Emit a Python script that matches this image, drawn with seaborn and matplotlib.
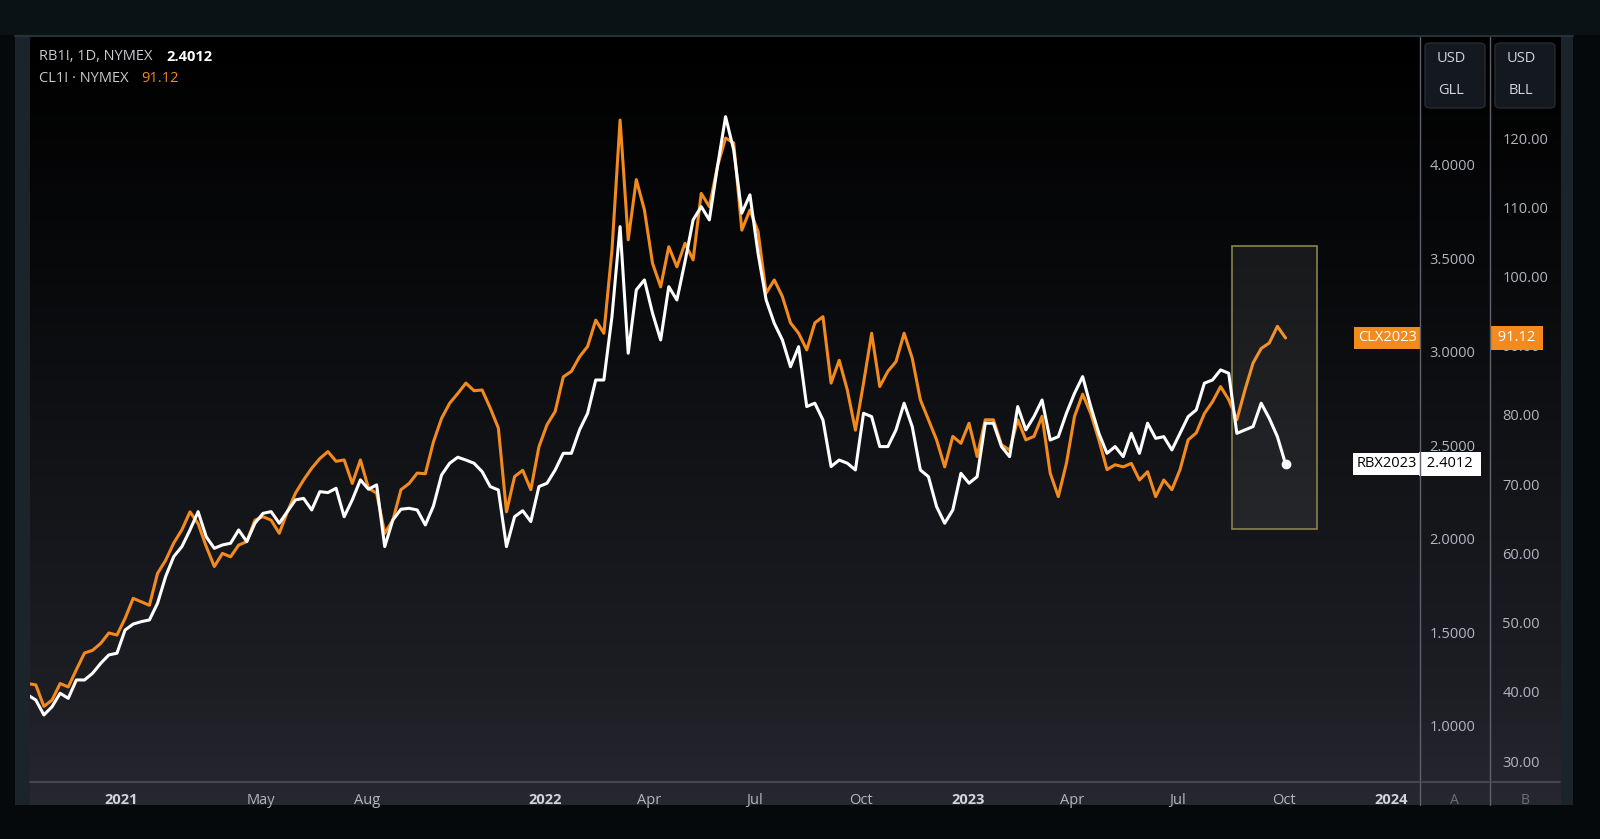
import numpy as np
import pandas as pd
import matplotlib
matplotlib.use("Agg")
import matplotlib.pyplot as plt
import matplotlib.dates as mdates
import matplotlib.transforms as mtransforms
from matplotlib.colors import LinearSegmentedColormap
from matplotlib.patches import Rectangle, FancyBboxPatch
from matplotlib.lines import Line2D
import seaborn as sns

# weekly closes (RB1! gasoline, CL1! crude)
start_date = "2020-10-12"
rb_close = [1.166, 1.139, 1.059, 1.103, 1.175, 1.148, 1.246, 1.246, 1.282, 1.335,
            1.380, 1.389, 1.513, 1.545, 1.558, 1.567, 1.656, 1.799, 1.906, 1.959,
            2.048, 2.146, 2.012, 1.950, 1.968, 1.977, 2.048, 1.986, 2.084, 2.137,
            2.146, 2.084, 2.146, 2.209, 2.217, 2.155, 2.253, 2.248, 2.271, 2.119,
            2.209, 2.316, 2.266, 2.289, 1.959, 2.102, 2.159, 2.164, 2.155, 2.075,
            2.176, 2.342, 2.405, 2.437, 2.422, 2.405, 2.360, 2.280, 2.262, 1.959,
            2.119, 2.151, 2.093, 2.280, 2.298, 2.369, 2.458, 2.458, 2.583, 2.672,
            2.850, 2.850, 3.189, 3.670, 2.993, 3.332, 3.385, 3.207, 3.064, 3.349,
            3.278, 3.483, 3.706, 3.777, 3.706, 3.991, 4.258, 4.080, 3.742, 3.840,
            3.528, 3.278, 3.153, 3.064, 2.921, 3.028, 2.708, 2.726, 2.636, 2.387,
            2.422, 2.405, 2.369, 2.672, 2.654, 2.494, 2.494, 2.583, 2.726, 2.601,
            2.369, 2.333, 2.173, 2.084, 2.155, 2.351, 2.298, 2.333, 2.619, 2.619,
            2.494, 2.440, 2.708, 2.583, 2.654, 2.743, 2.529, 2.547, 2.672, 2.779,
            2.868, 2.708, 2.565, 2.458, 2.494, 2.440, 2.565, 2.458, 2.619, 2.538,
            2.547, 2.476, 2.565, 2.654, 2.690, 2.833, 2.850, 2.904, 2.886, 2.565,
            2.583, 2.601, 2.726, 2.645, 2.547, 2.4012]
cl_close = [41.2, 41.0, 37.9, 38.8, 41.2, 40.7, 43.2, 45.6, 46.0, 47.0,
            48.5, 48.2, 50.6, 53.5, 53.0, 52.5, 57.1, 59.0, 61.5, 63.4,
            66.0, 64.3, 61.0, 58.1, 60.0, 59.5, 61.2, 61.7, 64.8, 65.3,
            64.8, 62.9, 66.0, 68.7, 70.6, 72.3, 73.7, 74.7, 73.3, 73.5,
            70.1, 73.5, 69.4, 68.7, 62.9, 64.8, 69.2, 70.1, 71.6, 71.5,
            76.1, 79.5, 81.7, 83.1, 84.6, 83.5, 83.6, 81.0, 78.1, 66.0,
            71.1, 72.0, 69.2, 75.4, 78.6, 80.5, 85.5, 86.3, 88.4, 89.9,
            93.7, 91.8, 103.8, 122.6, 105.3, 114.0, 109.6, 101.9, 98.5, 104.3,
            101.4, 104.8, 102.4, 112.0, 110.1, 115.9, 120.0, 119.3, 106.7, 109.6,
            106.5, 97.6, 99.5, 97.1, 93.3, 91.8, 89.4, 93.3, 94.2, 84.6,
            87.9, 83.6, 77.8, 84.6, 91.8, 84.1, 86.3, 87.7, 91.8, 88.2,
            82.2, 79.3, 76.4, 72.5, 76.9, 75.9, 78.8, 74.0, 79.3, 79.3,
            75.7, 74.9, 79.3, 76.4, 76.9, 79.8, 71.6, 68.2, 73.0, 79.8,
            83.0, 80.2, 76.4, 72.1, 72.8, 72.5, 73.0, 70.6, 71.8, 68.2,
            70.6, 69.2, 72.1, 76.4, 77.4, 80.2, 81.9, 84.1, 82.2, 79.3,
            83.6, 87.5, 89.6, 90.4, 92.8, 91.12]

tick_dates = ["2021-01-01", "2021-05-01", "2021-08-01", "2022-01-01", "2022-04-01",
              "2022-07-01", "2022-10-01", "2023-01-01", "2023-04-01", "2023-07-01",
              "2023-10-01", "2024-01-01"]
tick_text = ["2021", "May", "Aug", "2022", "Apr", "Jul", "Oct", "2023", "Apr", "Jul", "Oct", "2024"]
gll_ticks = [1.0, 1.5, 2.0, 2.5, 3.0, 3.5, 4.0]
bll_ticks = [30, 40, 50, 60, 70, 80, 90, 100, 110, 120]
box_start, box_end = "2023-08-17", "2023-10-29"
box_low, box_high = 2.053, 3.567

ORANGE = "#f28a1e"
TXT = "#b2b5be"

df = pd.DataFrame({"date": pd.date_range(start_date, periods=len(rb_close), freq="7D"),
                   "rb": rb_close, "cl": cl_close})

sns.set_style("dark")
plt.rcParams["font.family"] = ["Open Sans", "DejaVu Sans"]

W, H = 1600, 839
fig = plt.figure(figsize=(16, 8.39), dpi=100, facecolor="#06090b")
fx = lambda px: px / W
fy = lambda py: 1 - py / H

# frame strips + top band of the screenshot
fig.patches.append(Rectangle((0, fy(35)), 1, 35 / H, transform=fig.transFigure, fc="#0b1215", ec="none", zorder=-3))
fig.patches.append(Rectangle((fx(15), fy(805)), (1573 - 15) / W, 770 / H, transform=fig.transFigure,
                             fc="#1b242b", ec="none", zorder=-3))

# background gradient
bg = fig.add_axes([fx(30), fy(805), (1560 - 30) / W, (805 - 37) / H], zorder=-2)
cmap = LinearSegmentedColormap.from_list("bg", [(0, "#000000"), (0.3, "#08090b"), (0.6, "#131519"),
                                                (0.85, "#1d1e24"), (1.0, "#27272f")])
bg.imshow(np.linspace(0, 1, 256)[:, None], aspect="auto", cmap=cmap, extent=[0, 1, 0, 1], origin="upper")
bg.axis("off")

ax = fig.add_axes([fx(30), fy(782), 1390 / W, (782 - 37) / H])
ax.patch.set_alpha(0)
ax2 = ax.twinx()
ax2.patch.set_alpha(0)

sns.lineplot(data=df, x="date", y="cl", ax=ax, color=ORANGE, linewidth=2.2, legend=False)
sns.lineplot(data=df, x="date", y="rb", ax=ax2, color="white", linewidth=2.2, legend=False)
ax2.plot(df["date"].iloc[-1], rb_close[-1], "o", color="white", markersize=6, zorder=5)

x0 = mdates.date2num(pd.Timestamp(box_start))
x1 = mdates.date2num(pd.Timestamp(box_end))
ax2.add_patch(Rectangle((x0, box_low), x1 - x0, box_high - box_low, fc=(1, 1, 1, 0.07),
                        ec="#8a8250", lw=1.2, zorder=1))

ax.set_xlim(pd.Timestamp("2020-10-14"), pd.Timestamp("2024-01-26"))
ax.set_ylim(26.97, 134.6)
ax2.set_ylim(0.7005, 4.684)
for a in (ax, ax2):
    a.set_xlabel("")
    a.set_ylabel("")
    a.grid(False)
    for s in a.spines.values():
        s.set_visible(False)

ax.set_xticks([mdates.date2num(pd.Timestamp(d)) for d in tick_dates])
ax.set_xticklabels(tick_text)
ax.tick_params(axis="x", length=0, pad=8, labelsize=10.5, labelcolor=TXT)
for lab in ax.get_xticklabels():
    if lab.get_text().isdigit():
        lab.set_fontweight("bold")
        lab.set_color("#d1d4dc")

ax2.set_yticks(gll_ticks)
ax2.set_yticklabels([f"{v:.4f}" for v in gll_ticks])
ax2.tick_params(axis="y", length=0, pad=7, labelsize=10.5, labelcolor=TXT)

ax.spines["right"].set_position(("axes", 1 + 70 / 1390))
ax.yaxis.tick_right()
ax.set_yticks(bll_ticks)
ax.set_yticklabels([f"{v:.2f}" for v in bll_ticks])
ax.tick_params(axis="y", length=0, pad=9, labelsize=10.5, labelcolor=TXT)

# last price tags
tr1 = mtransforms.blended_transform_factory(ax.transAxes, ax.transData)
tr2 = mtransforms.blended_transform_factory(ax2.transAxes, ax2.transData)
ax.text(0.9975, cl_close[-1], "CLX2023", transform=tr1, ha="right", va="center", color="white",
        fontsize=10.5, bbox=dict(boxstyle="square,pad=0.25", fc=ORANGE, ec="none"), zorder=6, clip_on=False)
ax.text(1 + 74 / 1390, cl_close[-1], " 91.12 ", transform=tr1, ha="left", va="center", color="white",
        fontsize=10.5, bbox=dict(boxstyle="square,pad=0.3", fc=ORANGE, ec="none"), zorder=6, clip_on=False)
ax2.text(0.9975, rb_close[-1], "RBX2023", transform=tr2, ha="right", va="center", color="black",
         fontsize=10.5, bbox=dict(boxstyle="square,pad=0.25", fc="white", ec="none"), zorder=6, clip_on=False)
ax2.text(1 + 3 / 1390, rb_close[-1], " 2.4012 ", transform=tr2, ha="left", va="center", color="black",
         fontsize=10.5, bbox=dict(boxstyle="square,pad=0.3", fc="white", ec="none"), zorder=6, clip_on=False)

# separators
sep = "#5e6169"
fig.add_artist(Line2D([fx(1420), fx(1420)], [fy(37), fy(805)], color=sep, lw=1))
fig.add_artist(Line2D([fx(1490), fx(1490)], [fy(37), fy(805)], color=sep, lw=1))
fig.add_artist(Line2D([fx(30), fx(1560)], [fy(782), fy(782)], color="#4c4f57", lw=1.2))
fig.add_artist(Line2D([fx(15), fx(1573)], [fy(36), fy(36)], color="#26323a", lw=1.5))

# scale headers
for cx, unit in [(1455, "GLL"), (1525, "BLL")]:
    fig.patches.append(FancyBboxPatch((fx(cx - 30), fy(108)), 60 / W, 65 / H,
                                      boxstyle="round,pad=0,rounding_size=0.004",
                                      transform=fig.transFigure, fc="#141920", ec="#262b33", lw=1))
    fig.text(fx(cx - 4), fy(59), "USD", ha="center", va="center", color="#d1d4dc", fontsize=10.5)
    fig.text(fx(cx - 4), fy(91), unit, ha="center", va="center", color="#d1d4dc", fontsize=10.5)
fig.text(fx(1454), fy(800), "A", ha="center", va="center", color="#6c6f79", fontsize=10)
fig.text(fx(1525), fy(800), "B", ha="center", va="center", color="#6c6f79", fontsize=10)

# legend header
fig.text(fx(39), fy(57), "RB1!, 1D, NYMEX", ha="left", va="center", color="#c9cbd1", fontsize=10.5)
fig.text(fx(166), fy(57), "2.4012", ha="left", va="center", color="white", fontsize=10.5, fontweight="bold")
fig.text(fx(39), fy(79), "CL1! \u00b7 NYMEX", ha="left", va="center", color="#c9cbd1", fontsize=10.5)
fig.text(fx(141), fy(79), "91.12", ha="left", va="center", color=ORANGE, fontsize=10.5)

fig.savefig("out.png", dpi=100, facecolor=fig.get_facecolor())
